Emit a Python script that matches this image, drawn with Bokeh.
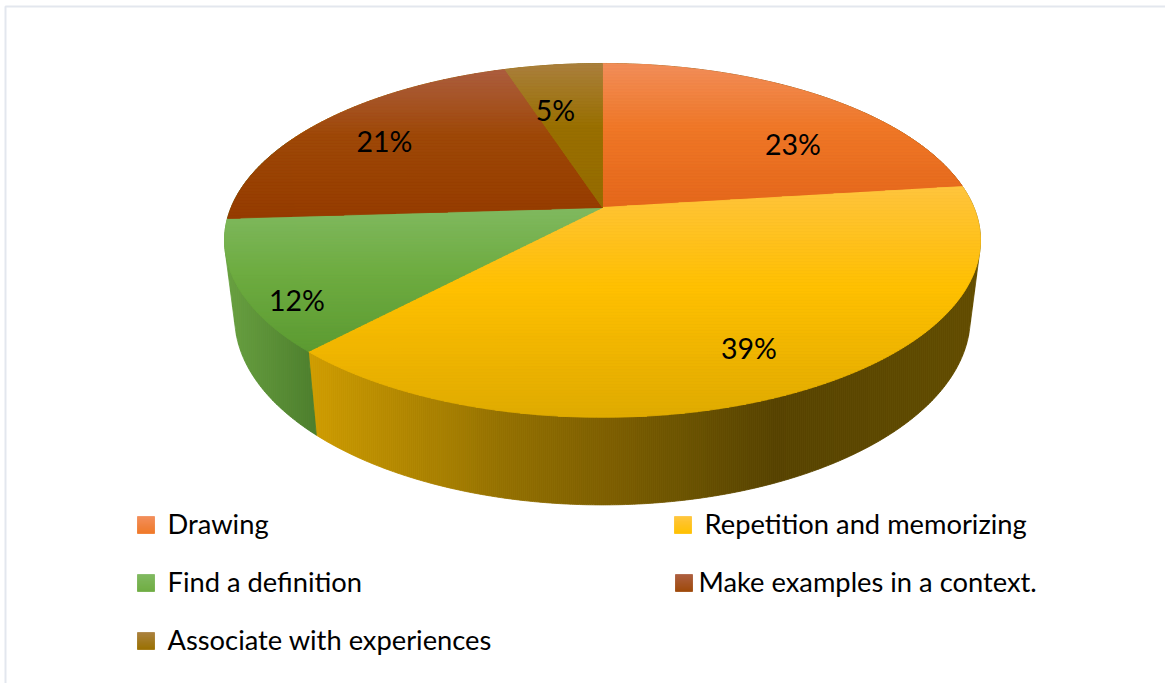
import numpy as np
from bokeh.plotting import figure
from bokeh.models import ColumnDataSource, Range1d
from bokeh.core.properties import value
from bokeh.embed import file_html
from bokeh.resources import INLINE

# Survey shares, clockwise from twelve o'clock
categories = ["Drawing", "Repetition and memorizing", "Find a definition",
              "Make examples in a context.", "Associate with experiences"]
shares = [23, 39, 12, 21, 5]
share_labels = ["23%", "39%", "12%", "21%", "5%"]

# Colour stops (fraction down the slice, rgb) for each top face
top_stops = [
    [(0, (241, 142, 90)), (.45, (240, 120, 40)), (1, (229, 104, 28))],
    [(0, (255, 197, 62)), (.45, (255, 192, 0)), (1, (224, 171, 0))],
    [(0, (128, 185, 96)), (.45, (110, 172, 65)), (1, (92, 155, 50))],
    [(0, (172, 94, 64)), (.45, (158, 72, 8)), (1, (150, 60, 0))],
    [(0, (170, 128, 62)), (.45, (153, 112, 0)), (1, (150, 108, 0))],
]
# Colour stops (page x, rgb) for the visible rim
rim_yellow = [(308, (208, 158, 0)), (500, (150, 114, 0)), (775, (88, 68, 0)), (980, (100, 78, 0))]
rim_green = [(225, (104, 160, 64)), (316, (76, 126, 44))]

# Perspective of the pie disc on the page
APEX_X, APEX_Y = 602.0, 207.0
A, B, K = 371.4, 170.8, 0.186
RIM_SCALE_X, RIM_SCALE_Y, RIM_DROP = 0.973, 1.06, 75.0


def project(theta, r=1.0):
    """Disc angle (radians clockwise from top) to offsets from the apex."""
    w = 1 + K * r * np.cos(theta)
    return A * r * np.sin(theta) / w, -B * r * np.cos(theta) / w


def top_point(theta):
    u, v = project(theta)
    return APEX_X + u, APEX_Y + v


def rim_point(theta):
    u, v = project(theta)
    return APEX_X + RIM_SCALE_X * u, APEX_Y + RIM_DROP + RIM_SCALE_Y * v


def clip(poly, nx, ny, c):
    """Keep the part of a polygon where nx*x + ny*y >= c."""
    out = []
    for i in range(len(poly)):
        p, q = poly[i], poly[(i + 1) % len(poly)]
        dp = nx * p[0] + ny * p[1] - c
        dq = nx * q[0] + ny * q[1] - c
        if dp >= 0:
            out.append(p)
        if dp * dq < 0:
            t = dp / (dp - dq)
            out.append((p[0] + t * (q[0] - p[0]), p[1] + t * (q[1] - p[1])))
    return out


def lerp(stops, t):
    for (t0, c0), (t1, c1) in zip(stops, stops[1:]):
        if t <= t1:
            f = max(0.0, (t - t0) / (t1 - t0))
            break
    else:
        return "#%02x%02x%02x" % stops[-1][1]
    return "#%02x%02x%02x" % tuple(int(round(a + f * (b - a))) for a, b in zip(c0, c1))


def hull(points):
    pts = sorted(set(points))
    def half(seq):
        h = []
        for p in seq:
            while len(h) > 1 and (h[-1][0]-h[-2][0])*(p[1]-h[-2][1]) - (h[-1][1]-h[-2][1])*(p[0]-h[-2][0]) <= 0:
                h.pop()
            h.append(p)
        return h[:-1]
    return half(pts) + half(pts[::-1])


xs, ys, cols = [], [], []


def add(poly, color):
    xs.append([p[0] for p in poly])
    ys.append([p[1] for p in poly])
    cols.append(color)


def add_vertical_gradient(poly, stops, step=1.5):
    y = [p[1] for p in poly]
    lo, hi = min(y), max(y)
    for y0 in np.arange(lo, hi, step):
        band = clip(clip(poly, 0, 1, y0), 0, -1, -(y0 + step))
        if len(band) > 2:
            add(band, lerp(stops, (y0 + step / 2 - lo) / (hi - lo)))


def add_horizontal_gradient(poly, stops, step=2.0):
    x = [p[0] for p in poly]
    for x0 in np.arange(min(x), max(x), step):
        band = clip(clip(poly, 1, 0, x0), -1, 0, -(x0 + step))
        if len(band) > 2:
            add(band, lerp(stops, x0 + step / 2))


edges = np.cumsum([0] + shares) / sum(shares) * 2 * np.pi

# Rim: silhouette of both discs, split where yellow meets green
ring = np.linspace(0, 2 * np.pi, 360, endpoint=False)
outline = hull([top_point(t) for t in ring] + [rim_point(t) for t in ring])
ax, ay = top_point(edges[2])
bx, by = rim_point(edges[2])
nx, ny = by - ay, ax - bx
c = nx * ax + ny * ay
add_horizontal_gradient(clip(outline, nx, ny, c), rim_yellow)
add_horizontal_gradient(clip(outline, -nx, -ny, -c), rim_green)

# Top faces
for i, stops in enumerate(top_stops):
    angles = np.linspace(edges[i], edges[i + 1], 120)
    add_vertical_gradient([(APEX_X, APEX_Y)] + [top_point(t) for t in angles], stops)

# Legend swatches run from the light top stop to the middle stop only
swatch_at = [(137, 516), (674, 516), (137, 574), (675, 574), (137, 632)]
for (sx, sy), stops in zip(swatch_at, top_stops):
    swatch_stops = [(0, stops[0][1]), (1, stops[1][1])]
    add_vertical_gradient([(sx, sy), (sx + 17, sy), (sx + 17, sy + 17), (sx, sy + 17)], swatch_stops, step=1.0)

p = figure(width=1165, height=683, output_backend="svg", toolbar_location=None,
           x_range=Range1d(0, 1165), y_range=Range1d(683, 0),
           min_border=0, outline_line_color=None)
p.axis.visible = False
p.grid.visible = False

# Thin page frame along the top and left
p.line([5, 5, 1165], [683, 6, 6], line_color="#e3e7ee", line_width=2)

p.patches("x", "y", source=ColumnDataSource(dict(x=xs, y=ys, c=cols)),
          fill_color="c", line_color="c", line_width=0.8)

font = value("Lato")
label_x = [792.5, 748.5, 296.5, 384, 555]
label_y = [143, 347, 299, 140, 109]
p.text(label_x, label_y, text=share_labels, text_font=font, text_font_size="28.5px",
       text_color="#000000", text_align="center", text_baseline="middle")

legend_x = [167, 704, 167, 698, 167]
legend_y = [523, 523, 581, 581, 639]
p.text(legend_x, legend_y, text=categories, text_font=font, text_font_size="27.3px",
       text_color="#000000", text_align="left", text_baseline="middle")

open("out.html", "w").write(file_html(p, INLINE))
